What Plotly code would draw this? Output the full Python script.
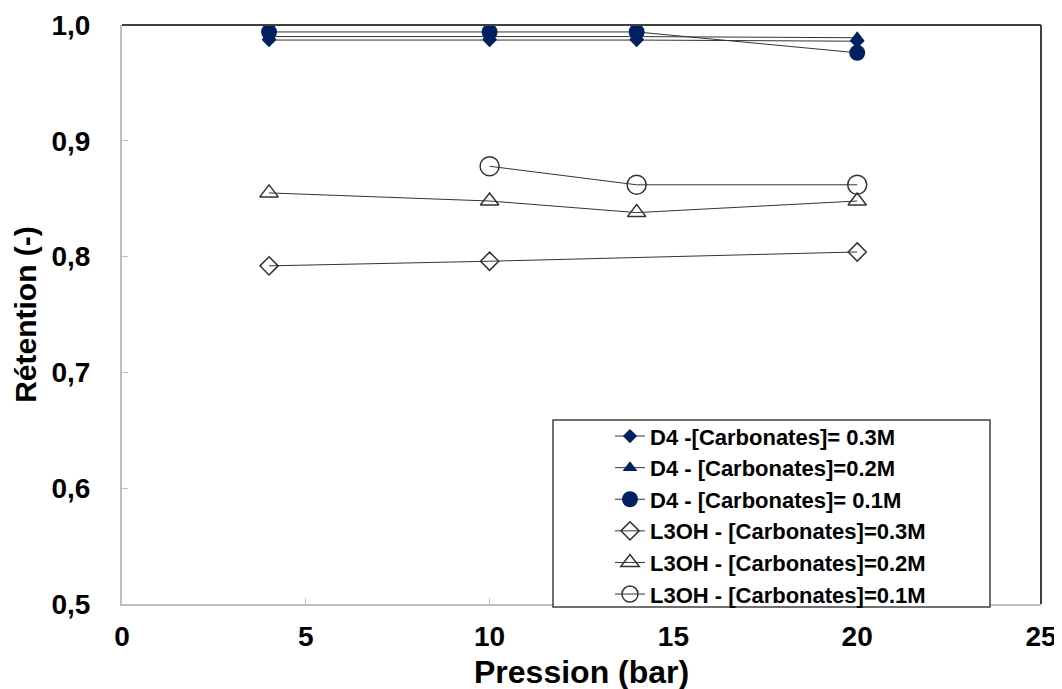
import plotly.graph_objects as go

pression = [4, 10, 14, 20]
d4_03 = [0.987, 0.987, 0.987, 0.986]
d4_02 = [0.990, 0.990, 0.990, 0.989]
d4_01 = [0.994, 0.994, 0.994, 0.976]
l3oh_pression_01 = [10, 14, 20]
l3oh_03 = [0.792, 0.796, 0.804]
l3oh_pression_03 = [4, 10, 20]
l3oh_02 = [0.855, 0.848, 0.838, 0.848]
l3oh_01 = [0.878, 0.862, 0.862]

names = [
    "D4 -[Carbonates]= 0.3M",
    "D4 - [Carbonates]=0.2M",
    "D4 - [Carbonates]= 0.1M",
    "L3OH - [Carbonates]=0.3M",
    "L3OH - [Carbonates]=0.2M",
    "L3OH - [Carbonates]=0.1M",
]
x_title = "Pression (bar)"
y_title = "Rétention (-)"

NAVY = "#00205f"
LINE = "#333333"
FONT = "Arial, Liberation Sans, sans-serif"

fig = go.Figure()
series = [
    (pression, d4_03, names[0], dict(symbol="diamond", size=11, color=NAVY)),
    (pression, d4_02, names[1], dict(symbol="triangle-up", size=13, color=NAVY)),
    (pression, d4_01, names[2], dict(symbol="circle", size=16, color=NAVY)),
    (l3oh_pression_03, l3oh_03, names[3], dict(symbol="diamond-open", size=14, color=LINE, line=dict(width=1.5, color=LINE))),
    (pression, l3oh_02, names[4], dict(symbol="triangle-up-open", size=16, color=LINE, line=dict(width=1.5, color=LINE))),
    (l3oh_pression_01, l3oh_01, names[5], dict(symbol="circle-open", size=19, color=LINE, line=dict(width=1.5, color=LINE))),
]
for x, y, n, m in series:
    fig.add_trace(go.Scatter(x=x, y=y, name=n, mode="lines+markers",
                             line=dict(color=LINE, width=1), marker=m))

fig.update_layout(
    width=1054, height=681,
    margin=dict(l=114, r=21, t=17, b=85, autoexpand=False),
    plot_bgcolor="white", paper_bgcolor="white",
    separators=", ",
    font=dict(family=FONT, color="black", weight="bold"),
    showlegend=True,
    legend=dict(x=0.531, y=0.326, xanchor="left", yanchor="top",
                bgcolor="rgba(0,0,0,0)", borderwidth=0,
                font=dict(size=22, family=FONT, weight="bold", color="black")),
    shapes=[
        dict(type="rect", xref="paper", yref="paper", x0=0.469, x1=0.9445, y0=-0.005, y1=0.318,
             line=dict(color="#404040", width=1.5), fillcolor="white", layer="above"),
        dict(type="line", xref="paper", yref="paper", x0=0, x1=1, y0=1, y1=1,
             line=dict(color="#404040", width=2)),
        dict(type="line", xref="paper", yref="paper", x0=1, x1=1, y0=0, y1=1,
             line=dict(color="#404040", width=2)),
    ],
    annotations=[
        dict(text=x_title, xref="paper", yref="paper", x=0.5, y=-0.117, xanchor="center", yanchor="middle",
             showarrow=False, font=dict(size=32, family=FONT, weight="bold", color="black")),
    ],
)
fig.update_xaxes(range=[0, 25], tickvals=[0, 5, 10, 15, 20, 25], showgrid=False, zeroline=False,
                 automargin=False,
                 showline=True, linecolor="#bfbfbf", linewidth=2,
                 ticks="inside", ticklen=6, tickcolor="#bfbfbf",
                 tickfont=dict(size=28, family=FONT, weight="bold"), ticklabelstandoff=6)
fig.update_yaxes(range=[0.5, 1.0], tickvals=[0.5, 0.6, 0.7, 0.8, 0.9, 1.0], tickformat=".1f",
                 showgrid=False, zeroline=False, automargin=False,
                 showline=True, linecolor="#bfbfbf", linewidth=2,
                 ticks="inside", ticklen=6, tickcolor="#bfbfbf",
                 tickfont=dict(size=28, family=FONT, weight="bold"), ticklabelstandoff=24,
                 title=dict(text=y_title, font=dict(size=30, family=FONT, weight="bold"), standoff=6))

fig.write_html("out.html")
